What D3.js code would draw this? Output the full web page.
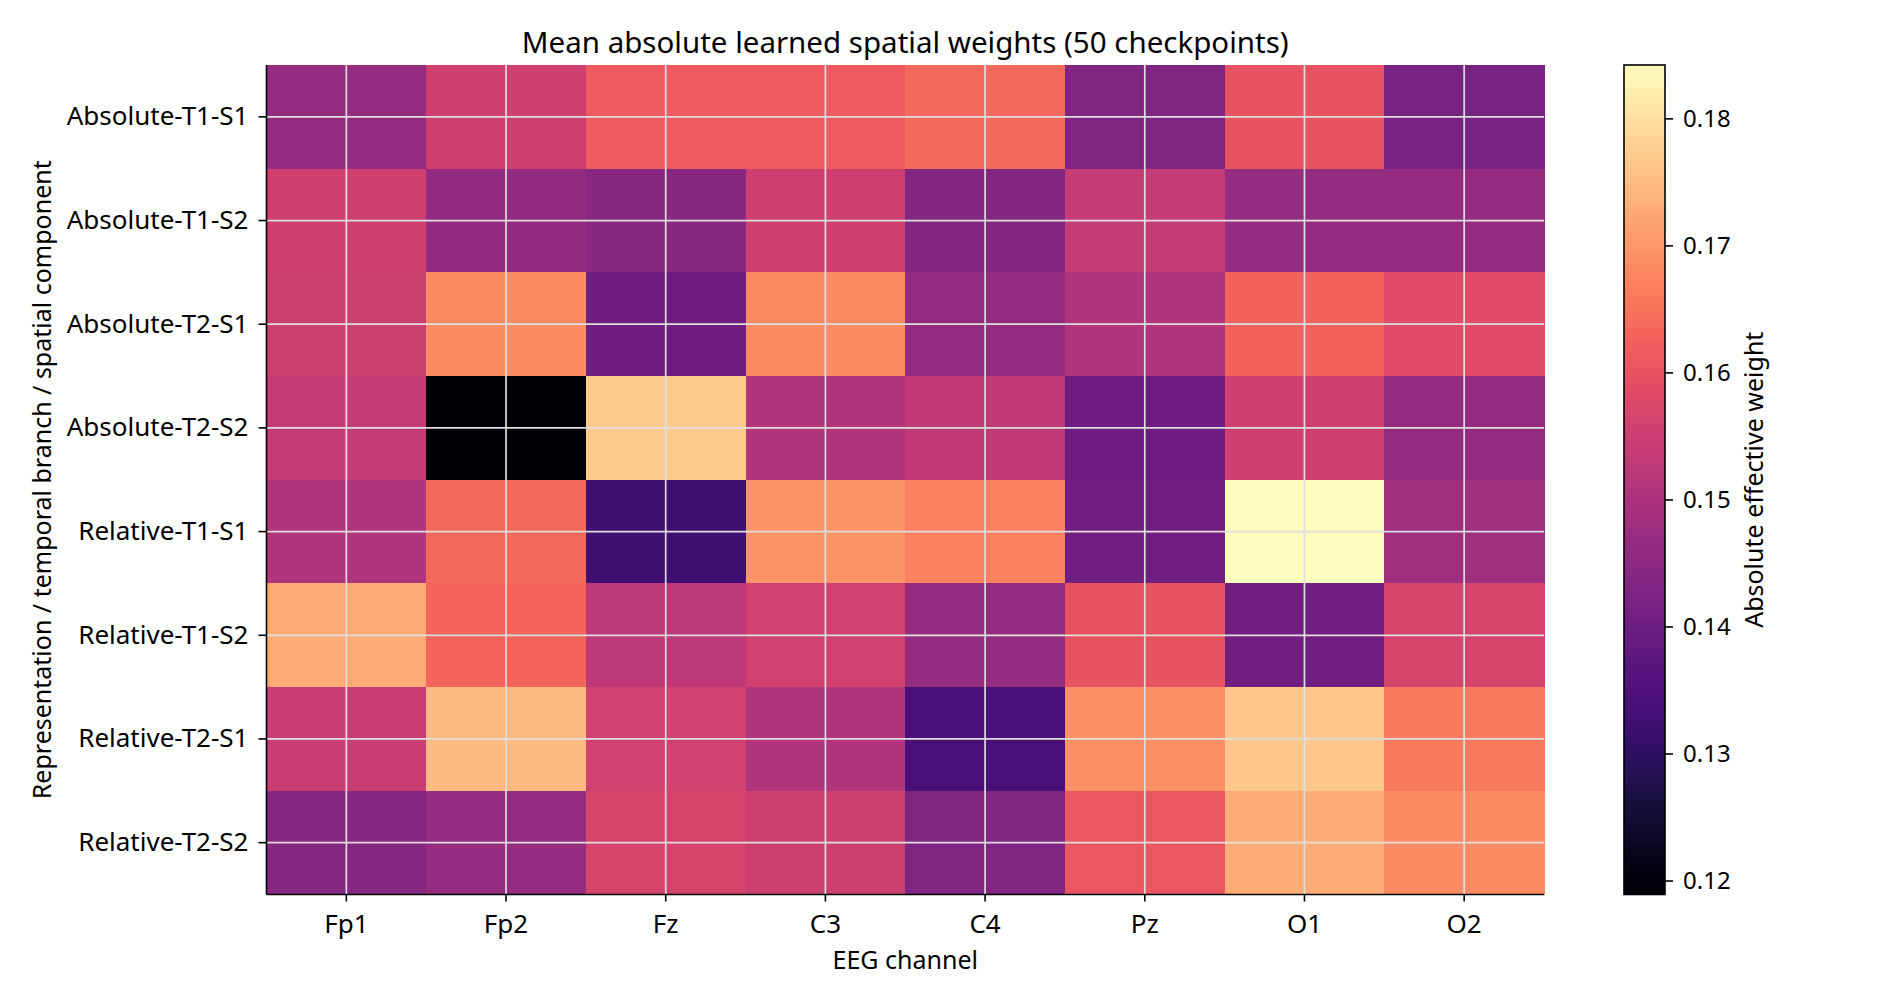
<!DOCTYPE html>
<html><head><meta charset="utf-8">
<script src="https://cdn.jsdelivr.net/npm/d3@7"></script>
<style>
body{margin:0;background:#fff;}
svg text{font-family:"Noto Sans",sans-serif;fill:#000;}
</style>
</head><body>
<svg id="chart" width="1890" height="1007"></svg>
<script>
// ---- data ----
const channels = ["Fp1","Fp2","Fz","C3","C4","Pz","O1","O2"];
const components = ["Absolute-T1-S1","Absolute-T1-S2","Absolute-T2-S1","Absolute-T2-S2",
                    "Relative-T1-S1","Relative-T1-S2","Relative-T2-S1","Relative-T2-S2"];
const absT1S1 = [0.1464,0.1556,0.1613,0.1613,0.1636,0.1431,0.1600,0.1417];
const absT1S2 = [0.1556,0.1461,0.1446,0.1553,0.1435,0.1536,0.1463,0.1465];
const absT2S1 = [0.1551,0.1684,0.1402,0.1684,0.1465,0.1507,0.1626,0.1586];
const absT2S2 = [0.1536,0.1190,0.1770,0.1506,0.1531,0.1399,0.1556,0.1463];
const relT1S1 = [0.1506,0.1636,0.1325,0.1695,0.1669,0.1405,0.1842,0.1478];
const relT1S2 = [0.1727,0.1628,0.1526,0.1558,0.1465,0.1602,0.1405,0.1566];
const relT2S1 = [0.1545,0.1748,0.1558,0.1506,0.1344,0.1691,0.1766,0.1663];
const relT2S2 = [0.1441,0.1465,0.1566,0.1551,0.1430,0.1607,0.1728,0.1684];
const matrix = [absT1S1,absT1S2,absT2S1,absT2S2,relT1S1,relT1S2,relT2S1,relT2S2];
const colorbarTicks = [0.12,0.13,0.14,0.15,0.16,0.17,0.18];
const titleText = "Mean absolute learned spatial weights (50 checkpoints)";
const xLabel = "EEG channel";
const yLabel = "Representation / temporal branch / spatial component";
const cbLabel = "Absolute effective weight";

// ---- layout ----
const svg = d3.select("#chart");
const L = 266.5, R = 1544, T = 65, B = 894.5;
const cbL = 1624, cbR = 1665;
const fsTick = 26, fsLabel = 25, fsCb = 24, fsTitle = 29.5;

const allVals = matrix.flat();
const vmin = d3.min(allVals) - 0.0001, vmax = d3.max(allVals);
const color = d3.scaleSequential(d3.interpolateMagma).domain([vmin, vmax]);

const x = d3.scaleBand().domain(channels).range([L, R]).padding(0);
const y = d3.scaleBand().domain(components).range([T, B]).padding(0);

// cells
const cells = [];
matrix.forEach((row, i) => row.forEach((v, j) => cells.push({r: components[i], c: channels[j], v})));
svg.append("g").selectAll("rect").data(cells).join("rect")
  .attr("x", d => x(d.c)).attr("y", d => y(d.r))
  .attr("width", x.bandwidth() + 0.5).attr("height", y.bandwidth() + 0.5)
  .attr("fill", d => color(d.v)).attr("shape-rendering", "crispEdges");

// grid lines through tick positions
const grid = svg.append("g").attr("stroke", "#dedede").attr("stroke-width", 1.7);
channels.forEach(c => grid.append("line")
  .attr("x1", x(c) + x.bandwidth()/2).attr("x2", x(c) + x.bandwidth()/2)
  .attr("y1", T).attr("y2", B));
components.forEach(r => grid.append("line")
  .attr("y1", y(r) + y.bandwidth()/2).attr("y2", y(r) + y.bandwidth()/2)
  .attr("x1", L).attr("x2", R));

// axes
const xAxis = d3.axisBottom(x).tickSize(7).tickPadding(13);
const gx = svg.append("g").attr("transform", `translate(0,${B})`).call(xAxis);
const yAxis = d3.axisLeft(y).tickSize(8).tickPadding(10);
const gy = svg.append("g").attr("transform", `translate(${L},0)`).call(yAxis);
[gx, gy].forEach(g => {
  g.selectAll("text").style("font-size", fsTick + "px").attr("font-family", "Noto Sans");
  g.selectAll("line").attr("stroke", "#000").attr("stroke-width", 1.6);
  g.select(".domain").attr("stroke", "#000").attr("stroke-width", 1.6);
});
gx.select(".domain").attr("d", `M${L},0H${R}`);
gy.select(".domain").attr("d", `M0,${T}V${B}`);

// title & labels
svg.append("text").attr("x", (L + R) / 2).attr("y", 52.5).attr("text-anchor", "middle")
  .style("font-size", fsTitle + "px").text(titleText);
svg.append("text").attr("x", (L + R) / 2).attr("y", 968.5).attr("text-anchor", "middle")
  .style("font-size", fsLabel + "px").text(xLabel);
svg.append("text").attr("transform", `translate(51,${(T + B) / 2}) rotate(-90)`)
  .attr("text-anchor", "middle").style("font-size", fsLabel + "px").text(yLabel);

// colorbar
const cy = d3.scaleLinear().domain([vmin, vmax]).range([B, T]);
const defs = svg.append("defs");
const grad = defs.append("linearGradient").attr("id", "cbgrad")
  .attr("x1", 0).attr("y1", 1).attr("x2", 0).attr("y2", 0);
d3.range(0, 1.0001, 0.02).forEach(t => grad.append("stop")
  .attr("offset", t).attr("stop-color", d3.interpolateMagma(t)));
svg.append("rect").attr("x", cbL).attr("y", T).attr("width", cbR - cbL).attr("height", B - T)
  .attr("fill", "url(#cbgrad)").attr("stroke", "#000").attr("stroke-width", 1.6);
const cbAxis = d3.axisRight(cy).tickValues(colorbarTicks).tickFormat(d3.format(".2f"))
  .tickSize(8).tickPadding(10);
const gcb = svg.append("g").attr("transform", `translate(${cbR},0)`).call(cbAxis);
gcb.select(".domain").remove();
gcb.selectAll("text").style("font-size", fsCb + "px").attr("font-family", "Noto Sans");
gcb.selectAll("line").attr("stroke", "#000").attr("stroke-width", 1.6);
svg.append("text").attr("transform", `translate(1763,${(T + B) / 2}) rotate(-90)`)
  .attr("text-anchor", "middle").style("font-size", fsLabel + "px").text(cbLabel);
</script>
</body></html>
